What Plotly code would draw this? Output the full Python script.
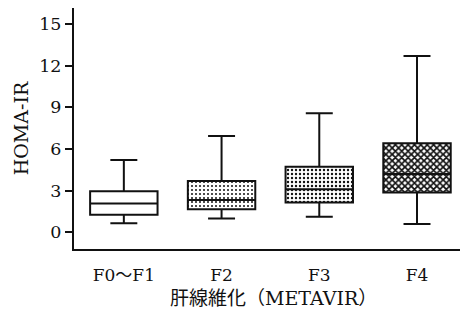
import plotly.graph_objects as go

# Fibrosis stages and HOMA-IR box statistics
stages = ["F0〜F1", "F2", "F3", "F4"]
whisker_low = [0.65, 1.00, 1.13, 0.60]
q1 = [1.27, 1.66, 2.14, 2.86]
median = [2.07, 2.33, 3.10, 4.20]
q3 = [2.96, 3.70, 4.73, 6.41]
whisker_high = [5.20, 6.93, 8.57, 12.69]

y_ticks = [0, 3, 6, 9, 12, 15]

# stipple density per stage (first box is plain)
stipple_shape = ["", ".", ".", "x"]
stipple_solidity = [0.1, 0.2, 0.28, 0.62]
stipple_size = [4, 4, 4, 4.5]

FONT = "DejaVu Serif, Noto Sans CJK JP, serif"
INK = "#111111"
BOX_W = 0.69

fig = go.Figure()

# stippled fill of each interquartile range
fig.add_trace(go.Bar(
    x=stages,
    y=[b - a for a, b in zip(q1, q3)],
    base=q1,
    width=BOX_W,
    marker=dict(
        color="white",
        line=dict(width=0),
        pattern=dict(
            shape=stipple_shape,
            solidity=stipple_solidity,
            size=stipple_size,
            fgcolor=INK,
            bgcolor="white",
            fillmode="replace",
        ),
    ),
    showlegend=False,
    hoverinfo="skip",
))

# box outlines, medians and capped whiskers
fig.add_trace(go.Box(
    x=stages,
    q1=q1,
    median=median,
    q3=q3,
    lowerfence=whisker_low,
    upperfence=whisker_high,
    width=BOX_W,
    whiskerwidth=0.4,
    fillcolor="rgba(0,0,0,0)",
    line=dict(color=INK, width=2),
    showlegend=False,
))

fig.update_layout(
    width=466,
    height=320,
    margin=dict(l=74, r=6, t=8, b=71),
    paper_bgcolor="white",
    plot_bgcolor="white",
    font=dict(family=FONT, size=17, color=INK),
    bargap=0,
    annotations=[dict(
        text="肝線維化（METAVIR）",
        xref="paper", yref="paper",
        x=0.516, y=-0.205,
        xanchor="center", yanchor="middle",
        showarrow=False,
        font=dict(size=19),
    )],
)

fig.update_xaxes(
    range=[-0.51, 3.44],
    showline=True,
    linecolor=INK,
    linewidth=2,
    showgrid=False,
    ticks="",
    ticklabelstandoff=10,
    tickfont=dict(size=17),
)

fig.update_yaxes(
    range=[-1.2, 16.15],
    tickvals=y_ticks,
    showline=True,
    linecolor=INK,
    linewidth=2,
    showgrid=False,
    zeroline=False,
    ticks="outside",
    ticklen=7,
    tickwidth=1.5,
    tickcolor=INK,
    tickfont=dict(size=17.5),
    title=dict(text="HOMA-IR", font=dict(size=19), standoff=6),
)

fig.write_html("out.html")
